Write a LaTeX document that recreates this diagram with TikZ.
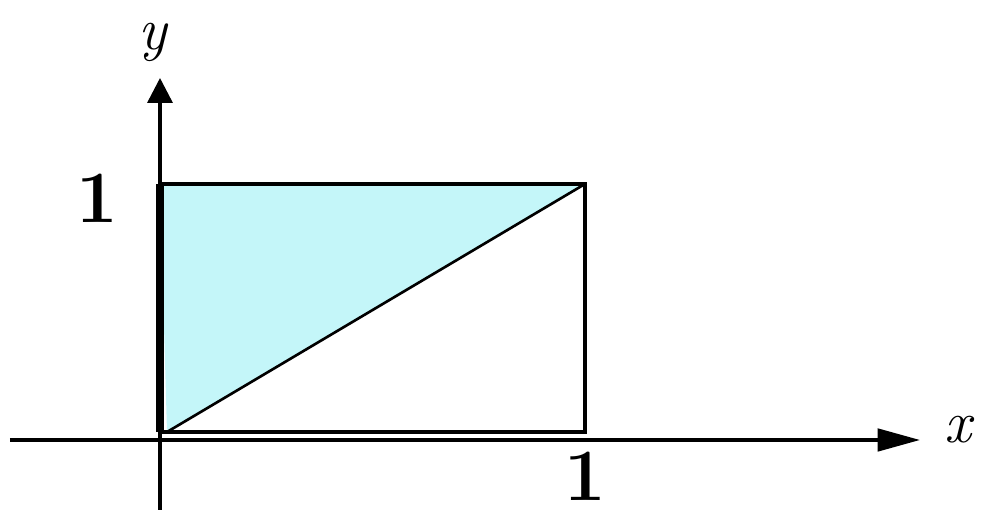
\documentclass[tikz,border=0pt]{standalone}
\definecolor{UCyan}{HTML}{C4F6F9}
\usetikzlibrary{arrows.meta}
\begin{document}
\begin{tikzpicture}[
    axis/.style={line width=2pt},
    edge/.style={line width=2pt},
    lbl/.style={font=\fontsize{42}{44}\selectfont\bfseries, inner sep=0pt},
    var/.style={font=\fontsize{34}{36}\selectfont\itshape, inner sep=0pt}]
  \useasboundingbox (-3.2,-1.4) rectangle (16.42,8.8);
  % corners of the square (drawn a little above the x axis)
  \coordinate (O) at (0,0.16);
  \coordinate (A) at (8.5,0.16);
  \coordinate (B) at (8.5,5.12);
  \coordinate (C) at (0,5.12);
  \coordinate (Od) at (0.14,0.16);
  % axis end points
  \coordinate (xs) at (-3.0,0);
  \coordinate (xe) at (15.2,0);
  \coordinate (ys) at (0,-1.4);
  \coordinate (ye) at (0,7.24);
  % shaded triangle
  \fill[UCyan] (Od) -- (B) -- (C) -- cycle;
  % square and diagonal
  \draw[edge] (O) -- (A) -- (B) -- (C);
  \draw[line width=4.5pt] (C) -- (O);
  \draw[line width=1.5pt] (Od) -- (B);
  % axes
  \draw[axis,-{Triangle[length=0.85cm,width=0.45cm]}] (xs) -- (xe);
  \draw[axis,-{Triangle[length=0.5cm,width=0.5cm]}] (ys) -- (ye);
  % labels
  \node[var] (xl) at (15.95,0.2) {x};
  \node[var] (yl) at (-0.15,7.95) {y};
  \node[lbl] (one-y) at (-1.26,4.84) {1};
  \node[lbl] (one-x) at (8.5,-0.72) {1};
\end{tikzpicture}
\end{document}
